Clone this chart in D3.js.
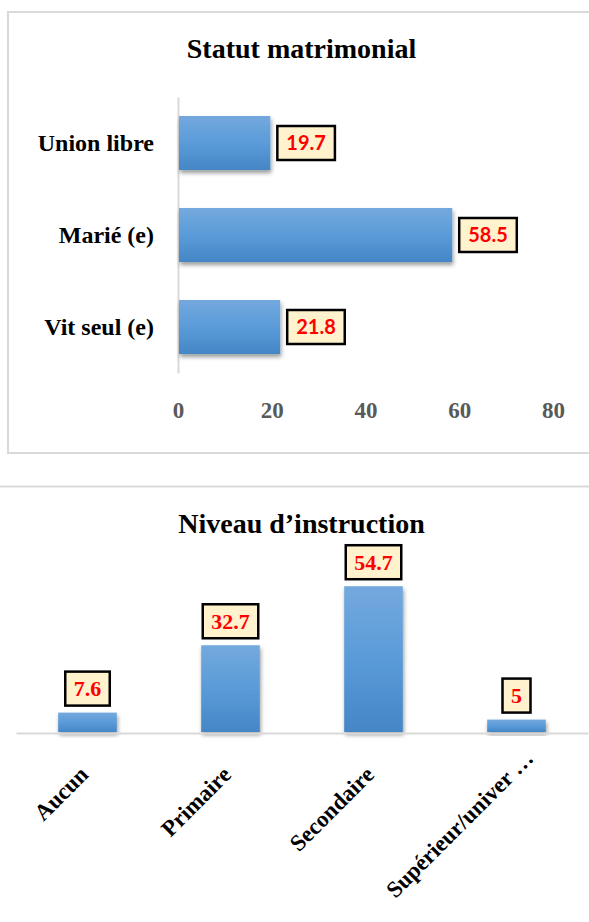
<!DOCTYPE html>
<html>
<head>
<meta charset="utf-8">
<script src="https://cdn.jsdelivr.net/npm/d3@7"></script>
<style>
  html, body { margin: 0; padding: 0; background: #fff; }
  svg { display: block; }
</style>
</head>
<body>
<script>
// ---- Data ----
const maritalCategories = ["Union libre", "Marié (e)", "Vit seul (e)"];
const maritalValues = [19.7, 58.5, 21.8];
const maritalTicks = [0, 20, 40, 60, 80];
const maritalTitle = "Statut matrimonial";

const eduCategories = ["Aucun", "Primaire", "Secondaire", "Supérieur/univer …"];
const eduValues = [7.6, 32.7, 54.7, 5];
const eduTitle = "Niveau d’instruction";

const W = 589, H = 922;
const serif = "'Liberation Serif', 'Times New Roman', serif";
const sans = "Lato, 'Liberation Sans', sans-serif";

const svg = d3.select("body").append("svg").attr("width", W).attr("height", H);
const defs = svg.append("defs");

function grad(id, x1, y1, x2, y2) {
  const g = defs.append("linearGradient").attr("id", id)
    .attr("x1", x1).attr("y1", y1).attr("x2", x2).attr("y2", y2);
  g.append("stop").attr("offset", "0%").attr("stop-color", "#74a9de");
  g.append("stop").attr("offset", "50%").attr("stop-color", "#5a9bd8");
  g.append("stop").attr("offset", "100%").attr("stop-color", "#4586c6");
}
grad("barGrad", 0, 0, 0, 1);

const f = defs.append("filter").attr("id", "shadow")
  .attr("x", "-20%").attr("y", "-20%").attr("width", "140%").attr("height", "150%");
f.append("feDropShadow").attr("dx", 1).attr("dy", 3).attr("stdDeviation", 2.2)
  .attr("flood-color", "#000").attr("flood-opacity", 0.4);

// ================= TOP CHART =================
const gTop = svg.append("g");
gTop.append("rect").attr("x", 8).attr("y", 12).attr("width", 600).attr("height", 441)
  .attr("fill", "none").attr("stroke", "#d9d9d9").attr("stroke-width", 2);

gTop.append("text").attr("x", 301.5).attr("y", 58).attr("text-anchor", "middle")
  .attr("font-family", serif).attr("font-weight", "bold").attr("font-size", 28)
  .attr("fill", "#000").text(maritalTitle);

const x1 = d3.scaleLinear().domain([0, 80]).range([178, 553]);
const y1 = d3.scaleBand().domain(maritalCategories).range([97, 373])
  .paddingInner(0.413).paddingOuter(0.2065);

const xAxis = gTop.append("g").attr("transform", "translate(0,418)")
  .call(d3.axisBottom(x1).tickValues(maritalTicks).tickSize(0).tickPadding(0));
xAxis.select(".domain").remove();
xAxis.selectAll("text").attr("dy", 0)
  .attr("font-family", serif).attr("font-weight", "bold").attr("font-size", 23)
  .attr("fill", "#595959");

const yAxis = gTop.append("g").attr("transform", "translate(178,0)")
  .call(d3.axisLeft(y1).tickSize(0).tickPadding(24));
yAxis.select(".domain").attr("stroke", "#d9d9d9").attr("stroke-width", 2);
yAxis.selectAll("text").attr("dy", "0.35em")
  .attr("font-family", serif).attr("font-weight", "bold").attr("font-size", 24)
  .attr("fill", "#000");

gTop.append("g").selectAll("rect").data(maritalValues).join("rect")
  .attr("x", x1(0) + 1)
  .attr("y", (d, i) => y1(maritalCategories[i]))
  .attr("width", d => x1(d) - x1(0) - 1)
  .attr("height", y1.bandwidth())
  .attr("fill", "url(#barGrad)")
  .attr("filter", "url(#shadow)");

const lab1 = gTop.append("g").selectAll("g").data(maritalValues).join("g");
lab1.each(function(d, i) {
  const g = d3.select(this);
  const cy = y1(maritalCategories[i]) + y1.bandwidth() / 2;
  const t = g.append("text").attr("font-family", sans).attr("font-weight", "bold")
    .attr("font-size", 20).attr("fill", "#ff0000").attr("text-anchor", "middle")
    .attr("dy", "0.36em").text(d);
  const tw = t.node().getComputedTextLength();
  const bw = tw + 18, bh = 34;
  const bx = x1(d) + 7;
  g.insert("rect", "text").attr("x", bx).attr("y", cy - bh / 2)
    .attr("width", bw).attr("height", bh)
    .attr("fill", "#fff2cc").attr("stroke", "#000").attr("stroke-width", 2.5);
  t.attr("x", bx + bw / 2).attr("y", cy);
});

// ================= BOTTOM CHART =================
const gBot = svg.append("g");
gBot.append("line").attr("x1", 0).attr("x2", W).attr("y1", 486.5).attr("y2", 486.5)
  .attr("stroke", "#d9d9d9").attr("stroke-width", 2);

gBot.append("text").attr("x", 301.5).attr("y", 533).attr("text-anchor", "middle")
  .attr("font-family", serif).attr("font-weight", "bold").attr("font-size", 28)
  .attr("fill", "#000").text(eduTitle);

const x2 = d3.scaleBand().domain(eduCategories).range([16, 588])
  .paddingInner(0.59).paddingOuter(0.295);
const y2 = d3.scaleLinear().domain([0, 60]).range([733, 572]);

gBot.append("g").selectAll("rect").data(eduValues).join("rect")
  .attr("x", (d, i) => x2(eduCategories[i]))
  .attr("y", d => y2(d))
  .attr("width", x2.bandwidth())
  .attr("height", d => y2(0) - y2(d) - 1)
  .attr("fill", "url(#barGrad)")
  .attr("filter", "url(#shadow)");

const xAxis2 = gBot.append("g").attr("transform", "translate(0,733)")
  .call(d3.axisBottom(x2).tickSize(0).tickFormat(""));
xAxis2.select(".domain").attr("stroke", "#d9d9d9").attr("stroke-width", 2);

gBot.append("g").selectAll("text").data(eduCategories).join("text")
  .attr("transform", d => `translate(${x2(d) + x2.bandwidth() / 2 + 2},776) rotate(-45)`)
  .attr("text-anchor", "end")
  .attr("dx", d => d.endsWith("…") ? "1em" : 0)
  .attr("font-family", serif).attr("font-weight", "bold").attr("font-size", 23)
  .attr("fill", "#000").text(d => d);

const lab2 = gBot.append("g").selectAll("g").data(eduValues).join("g");
lab2.each(function(d, i) {
  const g = d3.select(this);
  const cx = x2(eduCategories[i]) + x2.bandwidth() / 2;
  const t = g.append("text").attr("font-family", serif).attr("font-weight", "bold")
    .attr("font-size", 22).attr("fill", "#ff0000").attr("text-anchor", "middle")
    .attr("dy", "0.34em").text(d);
  const tw = t.node().getComputedTextLength();
  const bw = tw + 17, bh = 34;
  const by = y2(d) - 7 - bh;
  g.insert("rect", "text").attr("x", cx - bw / 2).attr("y", by)
    .attr("width", bw).attr("height", bh)
    .attr("fill", "#fff2cc").attr("stroke", "#000").attr("stroke-width", 2.5);
  t.attr("x", cx).attr("y", by + bh / 2);
});
</script>
</body>
</html>
